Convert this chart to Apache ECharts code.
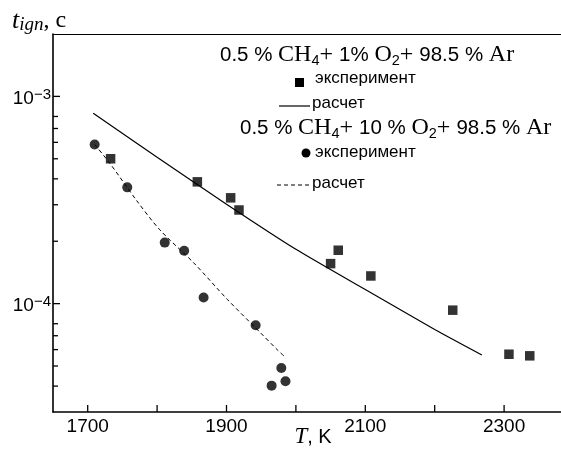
<!DOCTYPE html>
<html>
<head>
<meta charset="utf-8">
<script src="https://cdn.jsdelivr.net/npm/echarts@6/dist/echarts.min.js"></script>
<style>
  html, body { margin: 0; padding: 0; background: #fff; }
  #chart { width: 561px; height: 449px; }
</style>
</head>
<body>
<div id="chart"></div>
<script>
// Ignition delay of 0.5 % CH4 mixtures versus temperature (log time scale)
const tempRange = [1650, 2382];
const delayRange = [3e-5, 2e-3];
const xTickValues = [1700, 1800, 1900, 2000, 2100, 2200, 2300];
const xLabelValues = [1700, 1900, 2100, 2300];
const yMajorTicks = [1e-4, 1e-3];
const yMajorLabels = ['\u22124', '\u22123'];
const yMinorTicks = [8e-4, 7e-4, 6e-4, 5e-4, 4e-4, 3e-4, 2e-4, 8e-5, 7e-5, 6e-5, 5e-5, 4e-5];

// 0.5 % CH4 + 1 % O2 + 98.5 % Ar
const expLeanT = [1733, 1858, 1906, 1918, 2050, 2061, 2108, 2226, 2307, 2337];
const expLeanTau = [5.0e-4, 3.87e-4, 3.24e-4, 2.83e-4, 1.56e-4, 1.81e-4, 1.36e-4, 9.3e-5, 5.7e-5, 5.6e-5];
const calcLeanT = [1708, 1800, 1900, 2000, 2100, 2200, 2268];
const calcLeanTau = [8.3e-4, 5.09e-4, 3.02e-4, 1.83e-4, 1.17e-4, 7.5e-5, 5.65e-5];

// 0.5 % CH4 + 10 % O2 + 98.5 % Ar
const expRichT = [1710, 1757, 1811, 1839, 1867, 1942, 1979, 1985, 1965];
const expRichTau = [5.86e-4, 3.64e-4, 1.97e-4, 1.80e-4, 1.07e-4, 7.87e-5, 4.89e-5, 4.22e-5, 4.02e-5];
const calcRichT = [1710, 1732, 1770, 1804, 1853, 1901, 1949, 1973, 1983];
const calcRichTau = [5.86e-4, 4.75e-4, 3.16e-4, 2.27e-4, 1.57e-4, 1.05e-4, 7.23e-5, 6.0e-5, 5.58e-5];

const zip = (a, b) => a.map((v, i) => [v, b[i]]);

const SANS = 'Liberation Sans';
const SERIF = 'Liberation Serif';

const formulaRich = {
  n: { fontFamily: SANS, fontSize: 20.5, lineHeight: 26, fill: '#000' },
  s: { fontFamily: SERIF, fontSize: 24, lineHeight: 26, fill: '#000' },
  sub: { fontFamily: SANS, fontSize: 14.5, lineHeight: 15, verticalAlign: 'bottom', fill: '#000' }
};
const plainStyle = { fontFamily: SANS, fontSize: 17, fill: '#000', verticalAlign: 'middle' };

const chart = echarts.init(document.getElementById('chart'), null, { renderer: 'canvas' });

// tick marks drawn inward from the axes
function xTickItem(params, api) {
  const p = api.coord([api.value(0), delayRange[0]]);
  const v = api.value(0);
  const children = [{
    type: 'line',
    shape: { x1: p[0], y1: p[1], x2: p[0], y2: p[1] - 7 },
    style: { stroke: '#000', lineWidth: 1.3 }
  }];
  if (xLabelValues.indexOf(v) >= 0) {
    children.push({
      type: 'text',
      style: { text: String(v), x: p[0], y: p[1] + 5, align: 'center', verticalAlign: 'top',
               fontFamily: SANS, fontSize: 19, fill: '#000' }
    });
  }
  return { type: 'group', children };
}

function yTickItem(len) {
  return function (params, api) {
    const p = api.coord([tempRange[0], api.value(1)]);
    const children = [{
      type: 'line',
      shape: { x1: p[0], y1: p[1], x2: p[0] + len, y2: p[1] },
      style: { stroke: '#000', lineWidth: 1.3 }
    }];
    if (len > 6) {
      children.push({
        type: 'text',
        style: {
          text: '{b|10}{e|' + yMajorLabels[params.dataIndex] + '}',
          x: p[0] - 2, y: p[1] + 2, align: 'right', verticalAlign: 'middle',
          rich: {
            b: { fontFamily: SANS, fontSize: 19, lineHeight: 22, fill: '#000' },
            e: { fontFamily: SANS, fontSize: 15, lineHeight: 12, verticalAlign: 'top', fill: '#000' }
          }
        }
      });
    }
    return { type: 'group', children };
  };
}

const option = {
  animation: false,
  backgroundColor: '#fff',
  grid: { left: 53, right: 0, top: 34, bottom: 37, containLabel: false, outerBoundsMode: 'none' },
  xAxis: [
    {
      type: 'value', min: tempRange[0], max: tempRange[1],
      axisLine: { show: true, onZero: false, lineStyle: { color: '#000', width: 1.6 } },
      axisTick: { show: false }, axisLabel: { show: false }, splitLine: { show: false }
    },
    {
      type: 'value', position: 'top', min: tempRange[0], max: tempRange[1],
      axisLine: { show: true, onZero: false, lineStyle: { color: '#000', width: 1.2 } },
      axisTick: { show: false }, axisLabel: { show: false }, splitLine: { show: false }
    }
  ],
  yAxis: {
    type: 'log', logBase: 10, min: delayRange[0], max: delayRange[1],
    axisLine: { show: true, lineStyle: { color: '#000', width: 1.6 } },
    axisTick: { show: false }, axisLabel: { show: false }, splitLine: { show: false }
  },
  series: [
    {
      type: 'line', data: zip(calcLeanT, calcLeanTau), showSymbol: false, smooth: 0.2,
      lineStyle: { color: '#000', width: 1.2 }, z: 3
    },
    {
      type: 'line', data: zip(calcRichT, calcRichTau), showSymbol: false, smooth: 0.3,
      lineStyle: { color: '#000', width: 1, type: [4, 3] }, z: 3
    },
    {
      type: 'scatter', data: zip(expLeanT, expLeanTau), symbol: 'rect', symbolSize: 9.5,
      itemStyle: { color: '#000' }, z: 4
    },
    {
      type: 'scatter', data: zip(expRichT, expRichTau), symbol: 'circle', symbolSize: 10,
      itemStyle: { color: '#000' }, z: 4
    },
    {
      type: 'custom', data: xTickValues.map(v => [v]), renderItem: xTickItem,
      encode: { x: 0 }, silent: true, z: 5
    },
    {
      type: 'custom', data: yMajorTicks.map(v => [tempRange[0], v]), renderItem: yTickItem(7),
      encode: { x: 0, y: 1 }, silent: true, z: 5
    },
    {
      type: 'custom', data: yMinorTicks.map(v => [tempRange[0], v]), renderItem: yTickItem(5),
      encode: { x: 0, y: 1 }, silent: true, z: 5
    }
  ],
  graphic: [
    // axis titles
    {
      type: 'text', x: 12, y: 21,
      style: {
        text: '{t|t}{i|ign}{c|, с}', verticalAlign: 'middle',
        rich: {
          t: { fontFamily: SERIF, fontStyle: 'italic', fontSize: 26, lineHeight: 26, fill: '#000' },
          i: { fontFamily: SERIF, fontStyle: 'italic', fontSize: 19, lineHeight: 15, verticalAlign: 'bottom', fill: '#000' },
          c: { fontFamily: SERIF, fontSize: 24, lineHeight: 26, fill: '#000' }
        }
      }
    },
    {
      type: 'text', x: 313, y: 437,
      style: {
        text: '{t|T}{k|, K}', align: 'center', verticalAlign: 'middle',
        rich: {
          t: { fontFamily: SERIF, fontStyle: 'italic', fontSize: 23, fill: '#000' },
          k: { fontFamily: SANS, fontSize: 20, fill: '#000' }
        }
      }
    },
    // key: lean mixture
    {
      type: 'text', x: 220, y: 55,
      style: {
        text: '{n|0.5 % }{s|CH}{sub|4}{s|+ }{n|1% }{s|O}{sub|2}{s|+ }{n|98.5 % }{s|Ar}',
        verticalAlign: 'middle', rich: formulaRich
      }
    },
    { type: 'rect', shape: { x: 295, y: 78, width: 9, height: 9 }, style: { fill: '#000' } },
    { type: 'text', x: 315, y: 78, style: Object.assign({ text: 'эксперимент' }, plainStyle) },
    { type: 'line', shape: { x1: 279, y1: 106, x2: 310, y2: 106 }, style: { stroke: '#000', lineWidth: 1.2 } },
    { type: 'text', x: 312, y: 103, style: Object.assign({ text: 'расчет' }, plainStyle) },
    // key: oxygen-rich mixture
    {
      type: 'text', x: 240, y: 128,
      style: {
        text: '{n|0.5 % }{s|CH}{sub|4}{s|+ }{n|10 % }{s|O}{sub|2}{s|+ }{n|98.5 % }{s|Ar}',
        verticalAlign: 'middle', rich: formulaRich
      }
    },
    { type: 'circle', shape: { cx: 306, cy: 153, r: 4.5 }, style: { fill: '#000' } },
    { type: 'text', x: 315, y: 152, style: Object.assign({ text: 'эксперимент' }, plainStyle) },
    { type: 'line', shape: { x1: 277, y1: 185, x2: 310, y2: 185 }, style: { stroke: '#000', lineWidth: 1, lineDash: [4, 3] } },
    { type: 'text', x: 312, y: 183, style: Object.assign({ text: 'расчет' }, plainStyle) }
  ]
};

chart.setOption(option);
</script>
</body>
</html>
